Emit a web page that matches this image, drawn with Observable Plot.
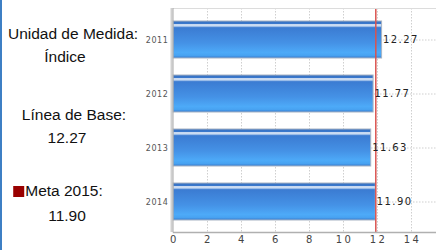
<!DOCTYPE html>
<html><head><meta charset="utf-8">
<script src="https://cdn.jsdelivr.net/npm/d3@7"></script>
<script src="https://cdn.jsdelivr.net/npm/@observablehq/plot@0.6"></script>
<style>
body{margin:0;background:#fff;}
#wrap{position:relative;width:436px;height:250px;overflow:hidden;font-family:"Liberation Sans",Arial,sans-serif;}
#border{position:absolute;left:0;top:0;width:2px;height:250px;background:#3d7fc4;}
.t{position:absolute;transform:translate(-50%,-50%);font-size:15.5px;color:#111;white-space:nowrap;}
.sq{display:inline-block;width:11px;height:11px;background:#990000;margin-right:1px;vertical-align:-1px;}
svg .vlab, svg .vlab text {letter-spacing:1.4px;}
svg .xtl, svg .xtl text {letter-spacing:2.5px;}
svg .ytl, svg .ytl text {letter-spacing:0.6px;}
</style></head><body>
<div id="wrap"><div id="border"></div></div>
<script>
const years = ["2011","2012","2013","2014"];
const values = [12.27, 11.77, 11.63, 11.90];
const meta = 11.90;
const baseLine = 12.27;
const xTicks = [0,2,4,6,8,10,12,14];
const infoLabels = ["Unidad de Medida:", "Índice", "Línea de Base:", "12.27", "Meta 2015:", "11.90"];

const data = years.map((y,i)=>({year:y, value:values[i]}));
const mono = "DejaVu Sans, sans-serif";

const chart = Plot.plot({
  width: 436, height: 250,
  marginLeft: 173, marginRight: 0, marginTop: 8, marginBottom: 18,
  style: {background: "transparent"},
  x: {domain: [0, 15.47]},
  y: {domain: years, paddingInner: 0.315, paddingOuter: 0.23, axis: null},
  marks: [
    Plot.gridX(xTicks.slice(1), {stroke: "#cfcfcf", strokeOpacity: 1, strokeDasharray: "1.5,1.5"}),
    Plot.gridY(years, {stroke: "#cfcfcf", strokeOpacity: 1, strokeDasharray: "1.5,1.5"}),
    Plot.barX(data, {x: "value", y: "year", fill: "url(#barGrad)", stroke: "#a8b4c4", strokeWidth: 1}),
    Plot.ruleX([meta], {stroke: "#d9534f", strokeWidth: 1.5}),
    Plot.text(data, {x: "value", y: "year", text: d => d.value.toFixed(2), textAnchor: "start", dx: 1, fontFamily: mono, fontSize: 10, fill: "#222", className: "vlab"}),
    Plot.frame({anchor: "top", stroke: "#dcdcdc"}),
    Plot.frame({anchor: "bottom", stroke: "#b0b0b0", strokeWidth: 1.5}),
    Plot.ruleX([0], {stroke: "#d0d0d0", strokeWidth: 2, dx: -2}),
    Plot.ruleX([0], {stroke: "#a8a8a8", strokeWidth: 1, dx: -0.5}),
    Plot.text(xTicks, {x: d => d, text: d => String(d), frameAnchor: "bottom", dy: 10, dx: 1, fontFamily: mono, fontSize: 10, fill: "#444", className: "xtl"}),
    Plot.text(years, {y: d => d, text: d => d, frameAnchor: "left", textAnchor: "end", dx: -5, fontFamily: mono, fontSize: 8, fill: "#555", className: "ytl"}),
    Plot.axisX({ticks: [], tickSize: 0, label: "Índice", labelAnchor: "center", labelOffset: 30, labelArrow: "none", fontFamily: mono, fontSize: 10, color: "#444"})
  ]
});

// gradient defs
const svg = d3.select(chart);
const defs = svg.insert("defs", ":first-child");
const g = defs.append("linearGradient").attr("id","barGrad").attr("x1",0).attr("y1",0).attr("x2",0).attr("y2",1);
[["0%","#356fc0"],["7%","#3a78cc"],["10%","#e6eef9"],["14%","#b3cdee"],["18%","#3b7bd2"],["60%","#4592e6"],["85%","#4daaf8"],["93%","#48a3f2"],["100%","#3a7cce"]]
  .forEach(([o,c])=>g.append("stop").attr("offset",o).attr("stop-color",c));

const wrap = document.getElementById("wrap");
wrap.appendChild(chart);
chart.style.position = "absolute"; chart.style.left = "0"; chart.style.top = "0";

const pos = [[73,34],[65,57],[74,115],[67,137.5],[58,191],[67,216]];
infoLabels.forEach((t,i)=>{
  const d = document.createElement("div");
  d.className = "t";
  d.style.left = pos[i][0]+"px"; d.style.top = pos[i][1]+"px";
  if (i === 4) { const s = document.createElement("span"); s.className = "sq"; d.appendChild(s); }
  d.appendChild(document.createTextNode(t));
  wrap.appendChild(d);
});
</script>
</body></html>
